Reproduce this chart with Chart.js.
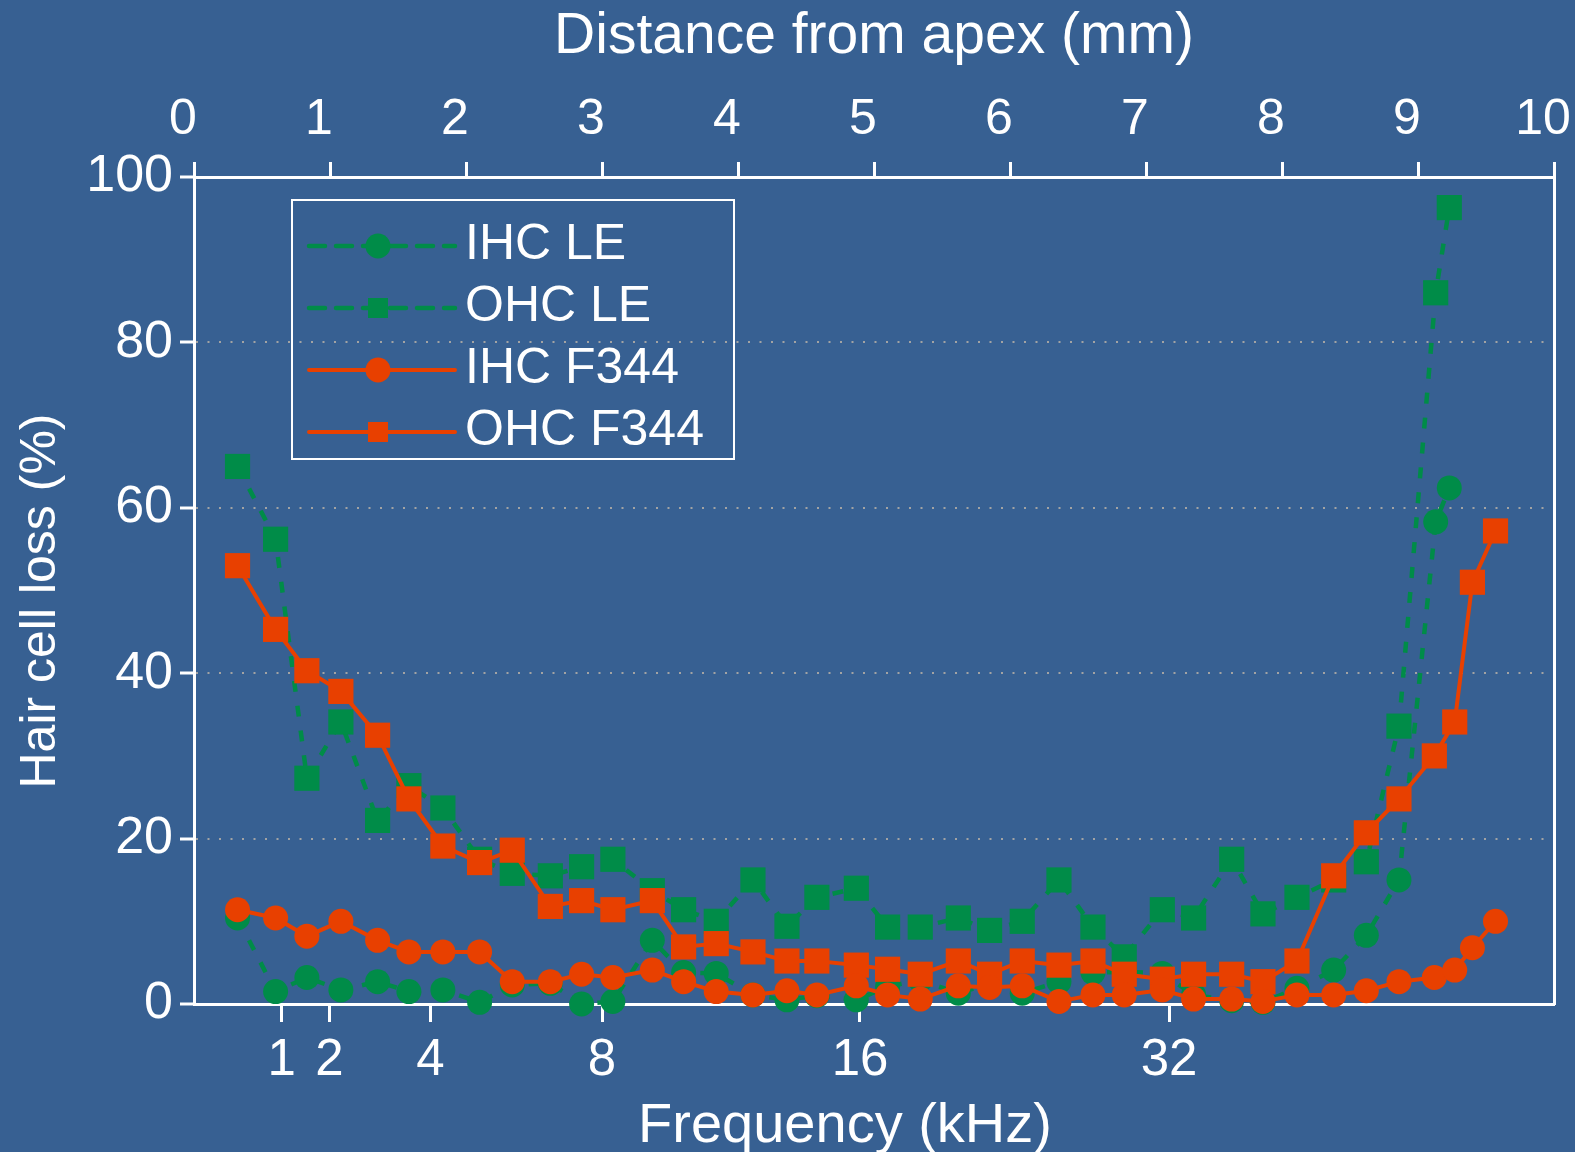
<!DOCTYPE html>
<html>
<head>
<meta charset="utf-8">
<script src="https://cdn.jsdelivr.net/npm/chart.js@4.4.1/dist/chart.umd.min.js"></script>
<style>
  html, body { margin: 0; padding: 0; background: #376092; }
  canvas { display: block; }
</style>
</head>
<body>
<canvas id="c" width="1575" height="1152"></canvas>
<script>
// ---- Data (distance from apex in mm, hair cell loss in %) ----
const distanceLE = [0.32, 0.60, 0.83, 1.08, 1.35, 1.58, 1.83, 2.10, 2.34, 2.62, 2.85, 3.08, 3.37, 3.60, 3.84, 4.11, 4.36, 4.58, 4.87, 5.10, 5.34, 5.62, 5.85, 6.09, 6.36, 6.61, 6.84, 7.12, 7.35, 7.63, 7.86, 8.11, 8.38, 8.62, 8.86, 9.13, 9.23];
const distanceF344 = [0.32, 0.60, 0.83, 1.08, 1.35, 1.58, 1.83, 2.10, 2.34, 2.62, 2.85, 3.08, 3.37, 3.60, 3.84, 4.11, 4.36, 4.58, 4.87, 5.10, 5.34, 5.62, 5.85, 6.09, 6.36, 6.61, 6.84, 7.12, 7.35, 7.63, 7.86, 8.11, 8.38, 8.62, 8.86, 9.12, 9.27, 9.40, 9.57];

const ihcLE = [10.4, 1.5, 3.2, 1.7, 2.7, 1.5, 1.7, 0.2, 2.3, 2.5, 0.0, 0.3, 7.7, 3.8, 3.7, 1.1, 0.5, 1.0, 0.5, 2.1, 2.9, 1.3, 2.5, 1.3, 2.7, 3.8, 3.9, 3.7, 1.1, 0.4, 0.2, 1.9, 4.1, 8.3, 15.0, 58.3, 62.4];
const ohcLE = [65.0, 56.2, 27.3, 34.1, 22.2, 26.4, 23.7, 17.5, 15.8, 15.5, 16.6, 17.5, 13.7, 11.4, 10.0, 15.0, 9.4, 12.9, 14.0, 9.3, 9.3, 10.4, 8.9, 10.0, 15.0, 9.3, 5.7, 11.4, 10.4, 17.5, 10.9, 12.9, 15.0, 17.2, 33.6, 86.0, 96.3];
const ihcF344 = [11.4, 10.4, 8.2, 10.0, 7.7, 6.3, 6.3, 6.3, 2.7, 2.7, 3.6, 3.2, 4.1, 2.7, 1.5, 1.1, 1.6, 1.1, 2.2, 1.1, 0.6, 2.2, 2.0, 2.2, 0.3, 1.1, 1.1, 1.7, 0.6, 0.6, 0.3, 1.1, 1.1, 1.6, 2.7, 3.2, 4.1, 6.8, 10.0];
const ohcF344 = [53.0, 45.3, 40.3, 37.8, 32.5, 24.8, 19.1, 17.1, 18.6, 11.8, 12.5, 11.4, 12.5, 6.9, 7.3, 6.3, 5.2, 5.2, 4.7, 4.2, 3.6, 5.2, 3.6, 5.2, 4.7, 5.2, 3.6, 3.0, 3.6, 3.6, 2.7, 5.2, 15.5, 20.7, 24.8, 30.0, 34.1, 51.0, 57.2];

// Frequency tick labels (kHz) and their place on the cochlea (mm from apex)
const freqLabels = ['1', '2', '4', '8', '16', '32'];
const freqPlaceMM = [0.645, 0.995, 1.738, 3.0, 4.897, 7.17];

const seriesNames = ['IHC LE', 'OHC LE', 'IHC F344', 'OHC F344'];
const titleTop = 'Distance from apex (mm)';
const titleBottom = 'Frequency (kHz)';
const titleLeft = 'Hair cell loss (%)';

// ---- Styles ----
const BG = '#376092';
const GREEN = '#008C48';
const ORANGE = '#E84000';
const WHITE = '#ffffff';
const SANS = "'Liberation Sans', Arial, Helvetica, sans-serif";

function pts(xs, ys) { return ys.map((v, i) => ({ x: xs[i], y: v })); }

const greenDash = [11, 14];

const datasets = [
  { label: seriesNames[0], data: pts(distanceLE, ihcLE), borderColor: GREEN, backgroundColor: GREEN,
    borderWidth: 4.5, borderDash: greenDash, pointStyle: 'circle', pointRadius: 12.5, pointBorderWidth: 0,
    order: 3, clip: 30 },
  { label: seriesNames[1], data: pts(distanceLE, ohcLE), borderColor: GREEN, backgroundColor: GREEN,
    borderWidth: 4.5, borderDash: greenDash, pointStyle: 'rect', pointRadius: 17.8, pointBorderWidth: 0,
    order: 2, clip: 30 },
  { label: seriesNames[2], data: pts(distanceF344, ihcF344), borderColor: ORANGE, backgroundColor: ORANGE,
    borderWidth: 4, pointStyle: 'circle', pointRadius: 12.5, pointBorderWidth: 0,
    order: 0, clip: 30 },
  { label: seriesNames[3], data: pts(distanceF344, ohcF344), borderColor: ORANGE, backgroundColor: ORANGE,
    borderWidth: 4, pointStyle: 'rect', pointRadius: 17.8, pointBorderWidth: 0,
    order: 1, clip: 30 }
];
datasets.forEach(d => { d.showLine = true; d.tension = 0; d.xAxisID = 'x'; d.yAxisID = 'y'; d.pointBackgroundColor = d.borderColor; });

const bgPlugin = {
  id: 'bg',
  beforeDraw(chart) {
    const ctx = chart.ctx;
    ctx.save();
    ctx.fillStyle = BG;
    ctx.fillRect(0, 0, chart.width, chart.height);
    ctx.restore();
  }
};

// Axis titles for the bottom and left axes (placed like the original figure)
const titlesPlugin = {
  id: 'axisTitles',
  afterDraw(chart) {
    const ctx = chart.ctx;
    ctx.save();
    ctx.fillStyle = WHITE;
    ctx.textAlign = 'center';
    ctx.textBaseline = 'middle';
    ctx.font = '56px ' + SANS;
    ctx.fillText(titleBottom, 845, 1127);
    ctx.translate(41, 601);
    ctx.rotate(-Math.PI / 2);
    ctx.font = '50px ' + SANS;
    ctx.fillText(titleLeft, 0, 0);
    ctx.restore();
  }
};

const legendPlugin = {
  id: 'boxLegend',
  afterDraw(chart) {
    const ctx = chart.ctx;
    const box = { x: 292, y: 200, w: 442, h: 259 };
    ctx.save();
    ctx.strokeStyle = WHITE;
    ctx.lineWidth = 2;
    ctx.strokeRect(box.x, box.y, box.w, box.h);
    const rows = [246, 308, 370, 432];
    chart.data.datasets.forEach((ds, i) => {
      const y = rows[i];
      ctx.save();
      ctx.strokeStyle = ds.borderColor;
      ctx.lineWidth = ds.borderWidth;
      ctx.setLineDash(ds.borderDash ? [16, 11] : []);
      ctx.lineCap = 'round';
      ctx.beginPath();
      ctx.moveTo(309, y);
      ctx.lineTo(455, y);
      ctx.stroke();
      ctx.restore();
      ctx.fillStyle = ds.borderColor;
      if (ds.pointStyle === 'circle') {
        ctx.beginPath();
        ctx.arc(378, y, 12.5, 0, Math.PI * 2);
        ctx.fill();
      } else {
        ctx.fillRect(378 - 10, y - 10, 20, 20);
      }
      ctx.fillStyle = WHITE;
      ctx.font = '50px ' + SANS;
      ctx.textBaseline = 'alphabetic';
      ctx.textAlign = 'left';
      ctx.fillText(ds.label, 465, y + 13);
    });
    ctx.restore();
  }
};

function noPad(s) { s.paddingLeft = 0; s.paddingRight = 0; s.paddingTop = 0; s.paddingBottom = 0; }

new Chart(document.getElementById('c'), {
  type: 'scatter',
  data: { datasets },
  plugins: [bgPlugin, titlesPlugin, legendPlugin],
  options: {
    responsive: false,
    animation: false,
    devicePixelRatio: 1,
    events: [],
    layout: { padding: 0 },
    plugins: { legend: { display: false }, tooltip: { enabled: false } },
    scales: {
      x: {
        type: 'linear', position: 'top', min: 0, max: 10,
        ticks: { stepSize: 1, color: WHITE, font: { family: SANS, size: 50 }, padding: 12, labelOffset: -11, maxRotation: 0, autoSkip: false },
        grid: { drawOnChartArea: false, drawTicks: true, tickLength: 15, tickColor: WHITE, tickWidth: 3, color: 'rgba(0,0,0,0)' },
        border: { color: WHITE, width: 3 },
        title: { display: true, text: titleTop, color: WHITE, font: { family: SANS, size: 57, lineHeight: 1.2 }, padding: { top: 3, bottom: 0 } },
        afterFit(s) { s.height = 177; noPad(s); }
      },
      xb: {
        type: 'linear', position: 'bottom', min: 0, max: 10,
        afterBuildTicks(s) { s.ticks = freqPlaceMM.map(v => ({ value: v })); },
        ticks: { color: WHITE, font: { family: SANS, size: 51 }, padding: 8, maxRotation: 0, autoSkip: false,
                 callback: (v, i) => freqLabels[i] },
        grid: { drawOnChartArea: false, drawTicks: true, tickLength: 18, tickColor: WHITE, tickWidth: 3, color: 'rgba(0,0,0,0)' },
        border: { color: WHITE, width: 3 },
        title: { display: false },
        afterFit(s) { s.height = 148; noPad(s); }
      },
      y: {
        type: 'linear', position: 'left', min: 0, max: 100,
        ticks: { stepSize: 20, color: WHITE, font: { family: SANS, size: 52 }, padding: 7 },
        grid: {
          drawOnChartArea: true, drawTicks: true, tickLength: 14, tickColor: WHITE, tickWidth: 3, lineWidth: 2,
          color: (c) => (c.tick && c.tick.value > 0 && c.tick.value < 100) ? '#a3a3a3' : 'rgba(0,0,0,0)'
        },
        border: { color: WHITE, width: 3, dash: [2, 9.5] },
        title: { display: false },
        afterFit(s) { s.width = 194; noPad(s); }
      },
      yr: {
        type: 'linear', position: 'right', min: 0, max: 100,
        ticks: { display: false },
        grid: { drawOnChartArea: false, drawTicks: false, color: 'rgba(0,0,0,0)' },
        border: { color: WHITE, width: 3 },
        afterFit(s) { s.width = 21; noPad(s); }
      }
    }
  }
});
</script>
</body>
</html>
